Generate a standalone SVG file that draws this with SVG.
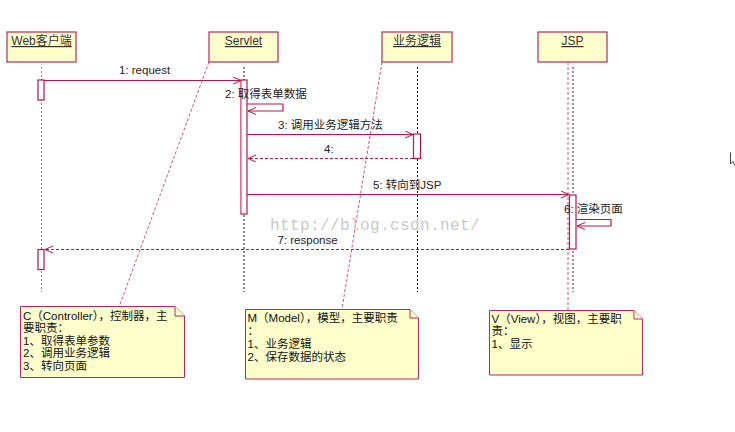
<svg xmlns="http://www.w3.org/2000/svg" width="735" height="432" viewBox="0 0 735 432">
<defs>
<style>
.hdr{fill:#ffffcc;stroke:#b8285a;stroke-width:1.2}
.ht{font-family:"Liberation Sans","Noto Sans CJK SC",sans-serif;font-size:12px;fill:#333;text-anchor:middle;text-decoration:underline}
.lbl{font-family:"Liberation Sans","Noto Sans CJK SC",sans-serif;font-size:11.5px;fill:#222}
.nt{font-family:"Liberation Sans","Noto Sans CJK SC",sans-serif;font-size:11.5px;fill:#111}
.note{fill:#ffffcc;stroke:#b8285a;stroke-width:1}
.act{fill:#fff;stroke:#b5174d;stroke-width:1.2}
.msg{fill:none;stroke:#b5174d;stroke-width:1.2}
.ret{fill:none;stroke:#b5174d;stroke-width:1;stroke-dasharray:3,2}
.ll{stroke:#111;stroke-width:1;stroke-dasharray:2,2}
.llg{stroke:#888;stroke-width:1;stroke-dasharray:2,2}
.nc{stroke:#c8508a;stroke-width:1;stroke-dasharray:3,2;fill:none}
</style>
<marker id="arr" markerUnits="userSpaceOnUse" markerWidth="10" markerHeight="9" refX="8" refY="3.5" orient="auto">
<path d="M0,0 L8,3.5 L0,7" fill="none" stroke="#b5174d" stroke-width="1"/>
</marker>
</defs>
<rect width="735" height="432" fill="#fff"/>

<g id="lifelines">
<line class="llg" x1="41.5" y1="67" x2="41.5" y2="292"/>
<line class="ll" x1="244" y1="67" x2="244" y2="292"/>
<line class="ll" x1="417.5" y1="67" x2="417.5" y2="292"/>
<line x1="573" y1="67" x2="573" y2="292" stroke="#999" stroke-width="2" stroke-dasharray="2,2"/>
</g>

<g id="connectors">
<line class="nc" x1="209" y1="62" x2="119" y2="307"/>
<line class="nc" x1="382" y1="62" x2="342" y2="309"/>
<line class="nc" x1="568" y1="62" x2="568" y2="311"/>
</g>

<g id="node-web">
<rect class="hdr" x="7" y="32" width="69" height="30"/>
<text class="ht" x="41.5" y="45">Web客户端</text>
</g>
<g id="node-servlet">
<rect class="hdr" x="209" y="32" width="69" height="30"/>
<text class="ht" x="243.5" y="45">Servlet</text>
</g>
<g id="node-logic">
<rect class="hdr" x="382" y="32" width="70" height="30"/>
<text class="ht" x="417" y="45">业务逻辑</text>
</g>
<g id="node-jsp">
<rect class="hdr" x="538" y="32" width="69" height="30"/>
<text class="ht" x="572.5" y="45">JSP</text>
</g>

<g id="activations">
<rect class="act" x="38" y="80" width="6" height="20"/>
<rect class="act" x="241" y="80" width="6" height="134"/>
<line x1="241.6" y1="81" x2="241.6" y2="213" stroke="#e8a0b8" stroke-width="1"/>
<rect class="act" x="413.5" y="134" width="7" height="24.5"/>
<rect class="act" x="569.5" y="195" width="6.5" height="54"/>
<rect class="act" x="38" y="249.5" width="6" height="20"/>
</g>

<g id="messages">
<line class="msg" x1="44" y1="80.5" x2="241" y2="80.5" marker-end="url(#arr)"/>
<text class="lbl" x="119" y="73.5">1: request</text>
<polyline class="msg" points="247,104 283,104 283,111 248,111" marker-end="url(#arr)"/>
<text class="lbl" x="225" y="98">2: 取得表单数据</text>
<line class="msg" x1="247" y1="134.5" x2="413" y2="134.5" marker-end="url(#arr)"/>
<text class="lbl" x="278" y="128.5">3: 调用业务逻辑方法</text>
<line class="ret" x1="413" y1="158.5" x2="248" y2="158.5" marker-end="url(#arr)" stroke="#c8508a"/>
<text class="lbl" x="324" y="153">4:</text>
<line class="msg" x1="247" y1="194.5" x2="569" y2="194.5" marker-end="url(#arr)"/>
<text class="lbl" x="373" y="189">5: 转向到JSP</text>
<polyline class="msg" points="576,219.5 611,219.5 611,226 577,226" marker-end="url(#arr)"/>
<text class="lbl" x="564" y="213">6: 渲染页面</text>
<line class="ret" x1="569" y1="249.5" x2="45" y2="249.5" marker-end="url(#arr)"/>
<text class="lbl" x="277.5" y="243.5">7: response</text>
</g>

<text x="270" y="229.5" font-family="'Liberation Mono','DejaVu Sans Mono',monospace" font-size="16px" letter-spacing="0.4" fill="#c9c9c0">http://blog.csdn.net/</text>

<g id="note-c">
<path class="note" d="M20.5,306.5 H175 L184.5,316 V377.5 H20.5 Z"/>
<path class="note" d="M175,306.5 V316 H184.5" fill="none"/>
<text class="nt" x="23" y="319.5">C（Controller），控制器，主</text>
<text class="nt" x="23" y="332">要职责：</text>
<text class="nt" x="23" y="344.5">1、取得表单参数</text>
<text class="nt" x="23" y="357">2、调用业务逻辑</text>
<text class="nt" x="23" y="369.5">3、转向页面</text>
</g>
<g id="note-m">
<path class="note" d="M245.5,309.5 H410 L418.5,318 V379 H245.5 Z"/>
<path class="note" d="M410,309.5 V318 H418.5" fill="none"/>
<text class="nt" x="247.5" y="322">M（Model），模型，主要职责</text>
<text class="nt" x="247.5" y="335">：</text>
<text class="nt" x="247.5" y="348">1、业务逻辑</text>
<text class="nt" x="247.5" y="361">2、保存数据的状态</text>
</g>
<g id="note-v">
<path class="note" d="M489.5,310.5 H634 L642.5,319 V375 H489.5 Z"/>
<path class="note" d="M634,310.5 V319 H642.5" fill="none"/>
<text class="nt" x="491.5" y="322.5">V（View），视图，主要职</text>
<text class="nt" x="491.5" y="335">责：</text>
<text class="nt" x="491.5" y="348">1、显示</text>
</g>

<path d="M730.5,152.5 V164 L733,161.5 L735,165.5" fill="#fff" stroke="#444" stroke-width="1"/>
</svg>
